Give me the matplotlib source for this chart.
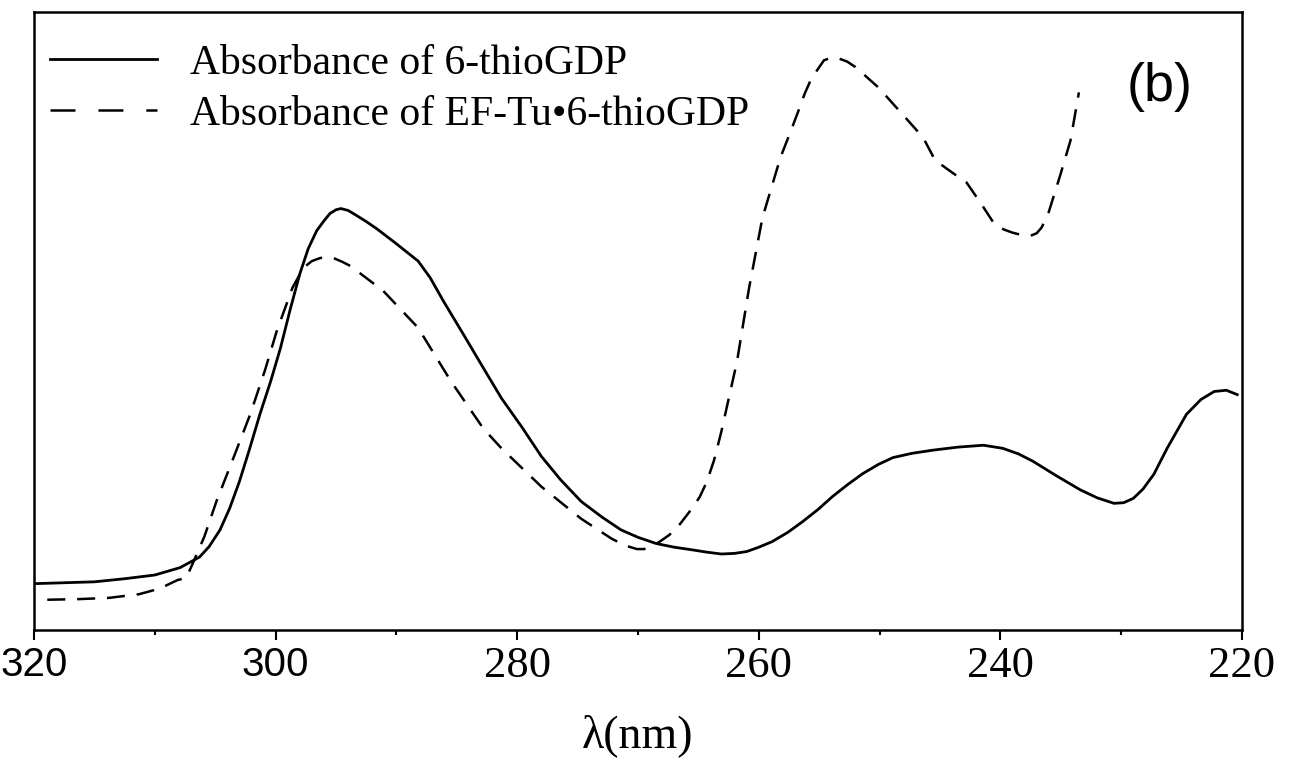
import matplotlib
matplotlib.use("Agg")
import matplotlib.pyplot as plt

# absorbance spectra, wavelength in nm, absorbance in arbitrary units
wl_free = [320.0, 315.0, 312.5, 310.0, 307.9, 306.3, 305.5, 304.6, 303.8, 303.0,
           302.2, 301.3, 300.4, 299.6, 298.8, 298.0, 297.3, 296.6, 296.0, 295.5,
           295.0, 294.6, 294.0, 293.4, 292.5, 291.6, 290.0, 288.2, 287.2, 286.1,
           284.5, 282.8, 281.3, 279.6, 278.0, 276.4, 274.7, 273.0, 271.4, 270.0,
           268.5, 267.0, 265.6, 264.3, 263.1, 262.0, 261.0, 260.0, 258.9, 257.6,
           256.4, 255.1, 253.9, 252.6, 251.4, 250.1, 248.9, 247.3, 245.6, 243.5,
           241.4, 239.8, 238.5, 237.3, 235.4, 233.4, 232.0, 230.6, 229.8, 229.0,
           228.2, 227.3, 226.2, 224.6, 223.4, 222.3, 221.3, 220.4]
abs_free = [0.075, 0.078, 0.083, 0.089, 0.101, 0.118, 0.135, 0.162, 0.197, 0.240,
            0.290, 0.349, 0.403, 0.456, 0.518, 0.576, 0.617, 0.646, 0.662, 0.674,
            0.680, 0.682, 0.679, 0.672, 0.661, 0.649, 0.625, 0.597, 0.570, 0.532,
            0.480, 0.424, 0.375, 0.328, 0.281, 0.243, 0.208, 0.183, 0.162, 0.150,
            0.140, 0.134, 0.130, 0.126, 0.123, 0.124, 0.127, 0.134, 0.143, 0.158,
            0.175, 0.195, 0.216, 0.236, 0.253, 0.268, 0.279, 0.286, 0.291, 0.296,
            0.299, 0.294, 0.285, 0.273, 0.250, 0.227, 0.214, 0.205, 0.206, 0.213,
            0.228, 0.252, 0.294, 0.349, 0.373, 0.386, 0.388, 0.381]

wl_bound = [318.9, 316.3, 313.8, 311.3, 309.6, 308.1, 307.4, 306.9, 305.9, 304.9,
            303.5, 302.1, 300.9, 299.9, 298.6, 297.7, 297.0, 296.3, 295.7, 295.1,
            294.5, 293.8, 291.1, 288.2, 285.5, 282.8, 281.3, 278.0, 274.7, 272.2,
            271.1, 270.1, 269.5, 268.9, 268.2, 267.4, 266.5, 265.6, 264.9, 264.3,
            263.7, 263.1, 261.8, 260.8, 259.7, 258.2, 257.5, 256.7, 256.2, 255.7,
            255.1, 254.6, 254.0, 253.4, 252.7, 252.0, 250.1, 247.9, 246.4, 245.4,
            243.9, 242.8, 241.6, 240.5, 239.7, 239.0, 238.2, 237.5, 237.0, 236.6,
            236.1, 235.7, 235.0, 234.2, 233.5]
abs_bound = [0.049, 0.050, 0.052, 0.058, 0.067, 0.081, 0.084, 0.106, 0.151, 0.208,
             0.278, 0.349, 0.419, 0.484, 0.554, 0.586, 0.597, 0.602, 0.603, 0.601,
             0.596, 0.589, 0.549, 0.489, 0.403, 0.326, 0.294, 0.232, 0.180, 0.148,
             0.137, 0.131, 0.131, 0.135, 0.143, 0.154, 0.172, 0.195, 0.215, 0.240,
             0.275, 0.321, 0.435, 0.554, 0.667, 0.765, 0.800, 0.841, 0.868, 0.890,
             0.908, 0.922, 0.926, 0.925, 0.920, 0.911, 0.878, 0.830, 0.797, 0.760,
             0.739, 0.724, 0.690, 0.657, 0.648, 0.643, 0.639, 0.638, 0.642, 0.651,
             0.670, 0.695, 0.739, 0.792, 0.870]

major_ticks = [320, 300, 280, 260, 240, 220]
minor_ticks = [310, 290, 270, 250, 230]
tick_labels = ['320', '300', '280', '260', '240', '220']
label_free = 'Absorbance of 6-thioGDP'
label_bound = 'Absorbance of EF-Tu\u20226-thioGDP'

serif = ['Liberation Serif', 'DejaVu Serif']
sans = ['Liberation Sans', 'DejaVu Sans']
plt.rcParams['lines.scale_dashes'] = False
plt.rcParams['font.family'] = serif

fig = plt.figure(figsize=(12.97, 7.62), dpi=100)
ax = fig.add_axes([0.0262, 0.1732, 0.9314, 0.8110])

ax.plot(wl_free, abs_free, color='black', linewidth=2.0, label=label_free)
ax.plot(wl_bound, abs_bound, color='black', linewidth=1.8,
        linestyle=(0, (13, 8.5)), label=label_bound)

ax.set_xlim(320, 220)
ax.set_ylim(0, 1)
ax.set_yticks([])
ax.set_xticks(major_ticks, tick_labels)
ax.set_xticks(minor_ticks, minor=True)
ax.tick_params(axis='x', which='major', direction='out', length=7, width=1.5,
               pad=4.5, labelsize=32)
ax.tick_params(axis='x', which='minor', direction='out', length=3.5, width=1.5)
for sp in ax.spines.values():
    sp.set_linewidth(1.8)

ax.set_xlabel('\u03bb(nm)', fontsize=33, labelpad=20)

leg = ax.legend(loc='upper left', bbox_to_anchor=(0.0132, 0.948), frameon=False,
                borderpad=0, borderaxespad=0, handlelength=2.57,
                handletextpad=0.8, labelspacing=0.3,
                prop={'family': serif, 'size': 30})
leg.get_lines()[1].set_dashes((18, 16.5))

ax.text(0.932, 0.879, '(b)', transform=ax.transAxes, ha='center', va='center',
        fontsize=39, family=sans)

# the two leftmost tick labels are set in a sans face
fig.canvas.draw()
for tick in ax.xaxis.get_major_ticks()[:2]:
    tick.label1.set_fontfamily(sans)
    tick.label1.set_fontsize(29)

fig.savefig('out.png', dpi=100)
